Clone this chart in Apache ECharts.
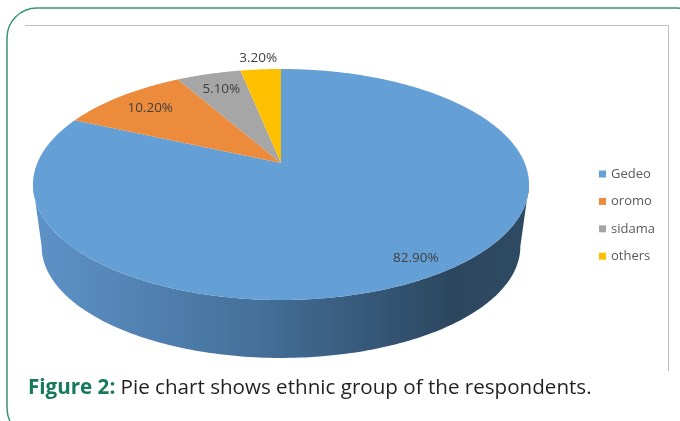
<!DOCTYPE html>
<html>
<head>
<meta charset="utf-8">
<script src="https://cdn.jsdelivr.net/npm/echarts@6/dist/echarts.min.js"></script>
<style>
html,body{margin:0;padding:0;background:#fff;}
#chart{width:680px;height:421px;}
</style>
</head>
<body>
<div id="chart"></div>
<script>
// ---- data ----
const categories = ['Gedeo', 'oromo', 'sidama', 'others'];
const values = [82.9, 10.2, 5.1, 3.2];
const sliceColors = ['#64a0d6', '#ed8b3d', '#a6a6a6', '#ffc000'];
const captionBold = 'Figure 2:';
const captionText = ' Pie chart shows ethnic group of the respondents.';

// ---- 3D-looking pie projection (style/layout constants) ----
const PIE = { cx: 281, cy: 163, A: 243.7, B: 111.5, k: 0.186, ecx: 281, ecy: 184.5, s: 0.965, D: 62 };
const total = values.reduce((a, b) => a + b, 0);
const starts = [];
(function () { let acc = 0; values.forEach(v => { starts.push(acc / total * 360); acc += v; }); })();

function topPt(deg, r) {
  const t = deg * Math.PI / 180;
  const u = r * Math.sin(t), v = -r * Math.cos(t);
  const w = 1 - PIE.k * v;
  return [PIE.cx + PIE.A * u / w, PIE.cy + PIE.B * v / w];
}
function botPt(deg) {
  const p = topPt(deg, 1);
  return [PIE.ecx + PIE.s * (p[0] - PIE.ecx), PIE.ecy + PIE.s * (p[1] - PIE.ecy) + PIE.D];
}
const edgeL = Math.acos(-PIE.k) * 180 / Math.PI;
const edgeR = 360 - edgeL;

function renderItem(params, api) {
  const i = params.dataIndex;
  const val = api.value(0);
  const a0 = starts[i];
  const a1 = a0 + val / total * 360;
  const children = [];
  const lo = Math.max(a0, edgeL), hi = Math.min(a1, edgeR);
  if (hi > lo) {
    const pts = [];
    for (let a = lo; a <= hi; a += 1) pts.push(topPt(a, 1));
    pts.push(topPt(hi, 1));
    for (let a = hi; a >= lo; a -= 1) pts.push(botPt(a));
    pts.push(botPt(lo));
    children.push({
      type: 'polygon',
      shape: { points: pts },
      style: {
        fill: {
          type: 'linear', x: 0, y: 0, x2: 1, y2: 0,
          colorStops: [
            { offset: 0, color: '#5e93c8' },
            { offset: 0.45, color: '#44709a' },
            { offset: 0.85, color: '#2c465e' },
            { offset: 1, color: '#2f4b64' }
          ]
        }
      }
    });
  }
  const top = [topPt(0, 0)];
  for (let a = a0; a < a1; a += 0.5) top.push(topPt(a, 1));
  top.push(topPt(a1, 1));
  children.push({ type: 'polygon', shape: { points: top }, style: { fill: sliceColors[i] } });
  const frac = val / total;
  const lr = frac > 0.5 ? 0.88 : (frac < 0.04 ? 1.15 : 0.8);
  const lp = topPt((a0 + a1) / 2, lr);
  children.push({
    type: 'text', x: lp[0], y: lp[1],
    style: {
      text: val.toFixed(2) + '%', fill: '#404040',
      font: '13.5px "Open Sans"', align: 'center', verticalAlign: 'middle',
      textAlign: 'center', textVerticalAlign: 'middle'
    }
  });
  return { type: 'group', children: children };
}

const chart = echarts.init(document.getElementById('chart'), null, { renderer: 'canvas' });
chart.setOption({
  animation: false,
  backgroundColor: '#ffffff',
  legend: {
    data: categories,
    orient: 'vertical',
    left: 599, top: 167.5,
    itemWidth: 7, itemHeight: 7, itemGap: 14.4,
    icon: 'rect',
    selectedMode: false,
    textStyle: { fontFamily: 'Open Sans', fontSize: 13, color: '#595959', padding: [0, 0, 0, 0] },
    padding: 0
  },
  graphic: [
    { type: 'rect', shape: { x: 7, y: 8, width: 700, height: 430, r: 30 },
      style: { fill: 'none', stroke: '#3a9478', lineWidth: 1.5 }, silent: true },
    { type: 'line', shape: { x1: 25, y1: 25.5, x2: 668.5, y2: 25.5 }, style: { stroke: '#bfbfbf', lineWidth: 1 }, silent: true },
    { type: 'line', shape: { x1: 668.5, y1: 25, x2: 668.5, y2: 371 }, style: { stroke: '#bfbfbf', lineWidth: 1 }, silent: true },
    { type: 'text', x: 28, y: 388,
      style: {
        text: '{b|' + captionBold + '}' + captionText,
        font: '20.6px "Open Sans"', fill: '#231f20',
        verticalAlign: 'middle', textVerticalAlign: 'middle',
        rich: { b: { fontWeight: 'bold', fontFamily: 'Open Sans', fontSize: 20.6, fill: '#17795c', color: '#17795c' } }
      }, silent: true }
  ],
  series: [
    {
      type: 'custom', coordinateSystem: 'none', silent: true,
      data: values.map((v, i) => ({ name: categories[i], value: v })),
      renderItem: renderItem
    },
    {
      type: 'pie', radius: 0, center: [-50, -50], silent: true,
      label: { show: false }, labelLine: { show: false },
      data: values.map((v, i) => ({ name: categories[i], value: v, itemStyle: { color: sliceColors[i] } }))
    }
  ]
});
</script>
</body>
</html>
